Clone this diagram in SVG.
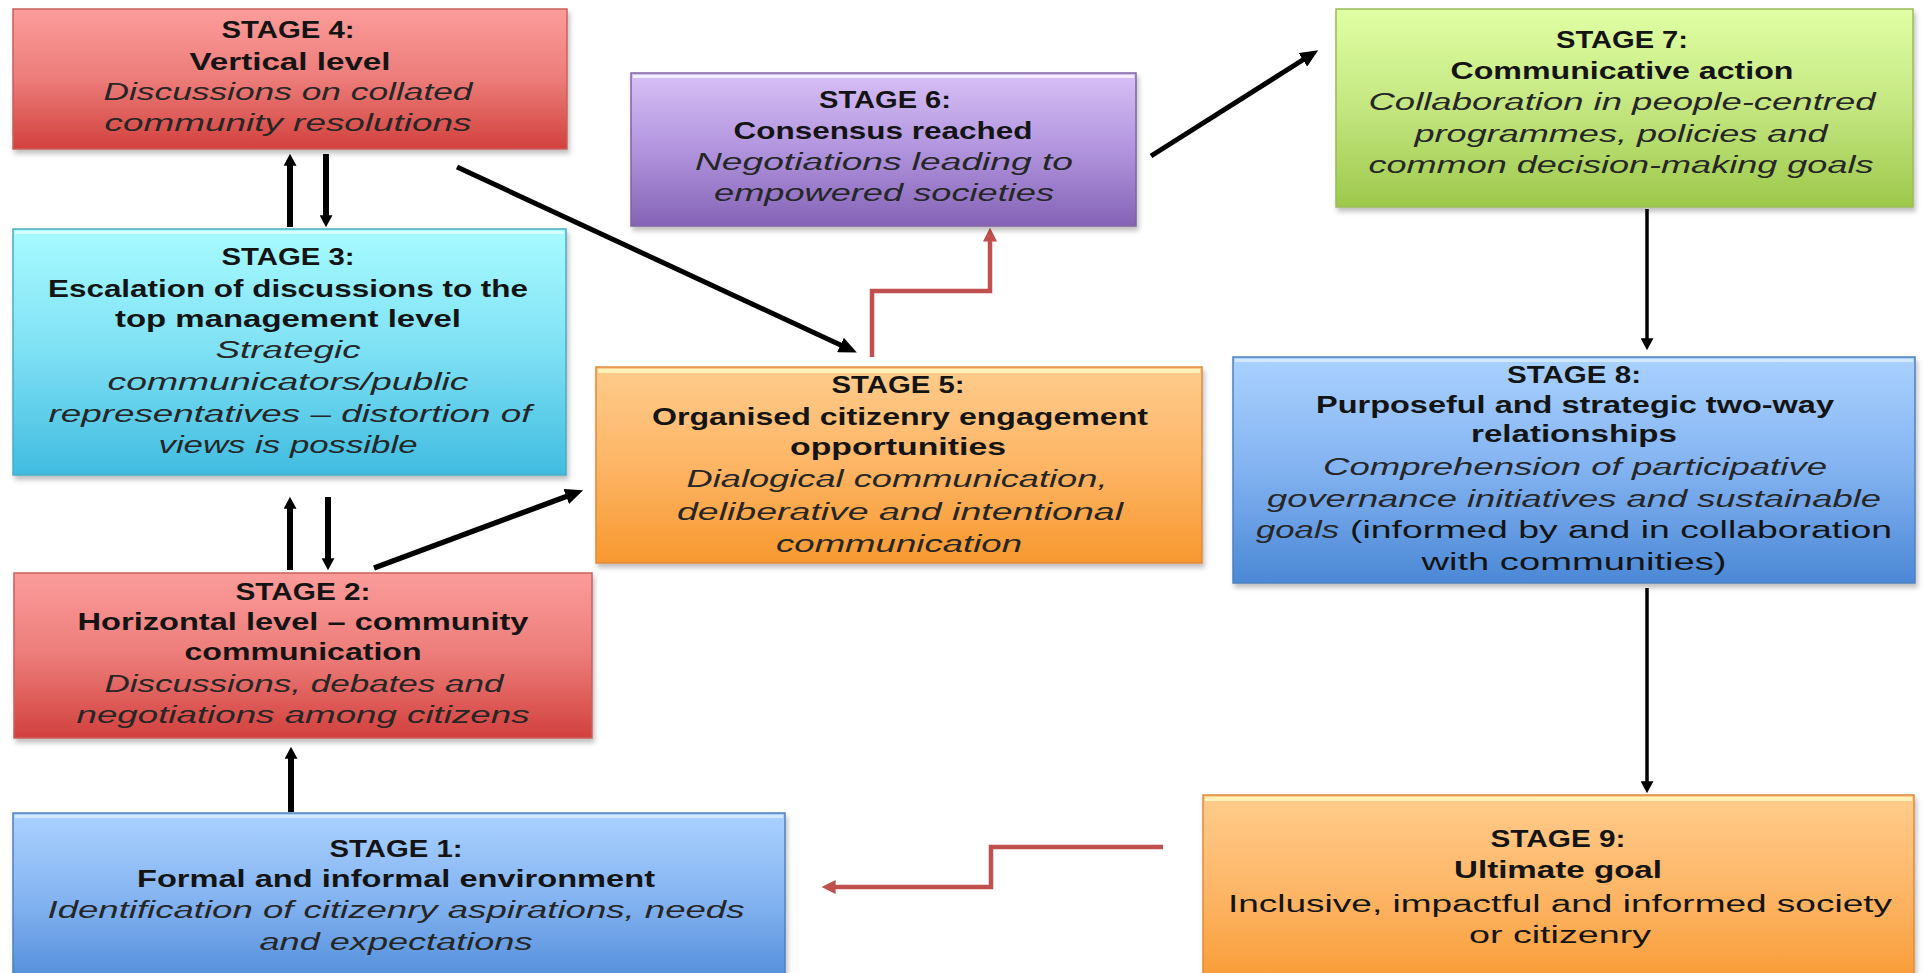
<svg xmlns="http://www.w3.org/2000/svg" width="1923" height="973" viewBox="0 0 1923 973">
<style>
text{font-family:"Liberation Sans",Arial,sans-serif;font-size:23px;fill:#141414;text-anchor:middle}
.b{font-weight:bold}
.i{font-style:italic;fill:#262626}
.n{font-weight:normal}
.s{text-anchor:start}
.box{stroke-width:1.5;filter:url(#sh)}
.k{stroke:#000;fill:none}
.r{stroke:#C0504D;stroke-width:4.5;fill:none}
</style>
<defs>
<filter id="sh" x="-5%" y="-10%" width="112%" height="130%"><feDropShadow dx="2" dy="4" stdDeviation="2.5" flood-color="#000" flood-opacity="0.25"/></filter>
<linearGradient id="gRed" x1="0" y1="0" x2="0" y2="1"><stop offset="0" stop-color="#FB9C9A"/><stop offset="0.5" stop-color="#EC7C79"/><stop offset="1" stop-color="#D2413E"/></linearGradient>
<linearGradient id="gCyan" x1="0" y1="0" x2="0" y2="1"><stop offset="0" stop-color="#A8FBFF"/><stop offset="0.5" stop-color="#7EE0F4"/><stop offset="1" stop-color="#40BCE0"/></linearGradient>
<linearGradient id="gPur" x1="0" y1="0" x2="0" y2="1"><stop offset="0" stop-color="#D8C0F6"/><stop offset="0.5" stop-color="#B194DE"/><stop offset="1" stop-color="#8463B6"/></linearGradient>
<linearGradient id="gOr" x1="0" y1="0" x2="0" y2="1"><stop offset="0" stop-color="#FFCC8C"/><stop offset="0.5" stop-color="#FDB565"/><stop offset="1" stop-color="#F8982F"/></linearGradient>
<linearGradient id="gGr" x1="0" y1="0" x2="0" y2="1"><stop offset="0" stop-color="#E0FFA4"/><stop offset="0.5" stop-color="#C4E680"/><stop offset="1" stop-color="#9DC84B"/></linearGradient>
<linearGradient id="gBl" x1="0" y1="0" x2="0" y2="1"><stop offset="0" stop-color="#AAD2FF"/><stop offset="0.5" stop-color="#82B2F0"/><stop offset="1" stop-color="#4B88D6"/></linearGradient>
<marker id="aS" viewBox="0 0 10 10" refX="4" refY="5" markerWidth="12" markerHeight="13" markerUnits="userSpaceOnUse" orient="auto" preserveAspectRatio="none"><path d="M0,0 L10,5 L0,10 z" fill="#000"/></marker>
<marker id="aL" viewBox="0 0 10 10" refX="4" refY="5" markerWidth="18" markerHeight="16" markerUnits="userSpaceOnUse" orient="auto" preserveAspectRatio="none"><path d="M0,0 L10,5 L0,10 z" fill="#000"/></marker>
<marker id="aR" viewBox="0 0 10 10" refX="4" refY="5" markerWidth="14" markerHeight="14" markerUnits="userSpaceOnUse" orient="auto"><path d="M0,0 L10,5 L0,10 z" fill="#C0504D"/></marker>
</defs>

<g id="connectors">
<line class="k" stroke-width="6" x1="290" y1="227" x2="290" y2="161" marker-end="url(#aS)"/>
<line class="k" stroke-width="6" x1="326" y1="154" x2="326" y2="220" marker-end="url(#aS)"/>
<line class="k" stroke-width="6" x1="290" y1="570" x2="290" y2="504" marker-end="url(#aS)"/>
<line class="k" stroke-width="6" x1="328" y1="497" x2="328" y2="563" marker-end="url(#aS)"/>
<line class="k" stroke-width="6" x1="291" y1="812" x2="291" y2="754" marker-end="url(#aS)"/>
<line class="k" stroke-width="3.5" x1="1647" y1="209" x2="1647" y2="343" marker-end="url(#aS)"/>
<line class="k" stroke-width="3.5" x1="1647" y1="588" x2="1647" y2="786" marker-end="url(#aS)"/>
<line class="k" stroke-width="5" x1="457" y1="167" x2="847" y2="348" marker-end="url(#aL)"/>
<line class="k" stroke-width="5.5" x1="374" y1="568" x2="573" y2="494" marker-end="url(#aL)"/>
<line class="k" stroke-width="5" x1="1151" y1="156" x2="1309" y2="56" marker-end="url(#aL)"/>
<path class="r" d="M872,357 V291 H990 V236" marker-end="url(#aR)"/>
<path class="r" d="M1163,847 H991 V887 H830" marker-end="url(#aR)"/>
</g>

<g id="stage4">
<rect class="box" x="13" y="9" width="554" height="140" fill="url(#gRed)" stroke="#C9605D"/>
<text class="b" x="288" y="38" textLength="133" lengthAdjust="spacingAndGlyphs">STAGE 4:</text>
<text class="b" x="290" y="70" textLength="201" lengthAdjust="spacingAndGlyphs">Vertical level</text>
<text class="i" x="288" y="100" textLength="369" lengthAdjust="spacingAndGlyphs">Discussions on collated</text>
<text class="i" x="288" y="131" textLength="367" lengthAdjust="spacingAndGlyphs">community resolutions</text>
</g>

<g id="stage3">
<rect class="box" x="13" y="229" width="553" height="246" fill="url(#gCyan)" stroke="#4BACC6"/>
<rect x="15" y="231" width="549" height="3" fill="#D8FFFF"/>
<text class="b" x="288" y="265" textLength="133" lengthAdjust="spacingAndGlyphs">STAGE 3:</text>
<text class="b" x="288" y="297" textLength="480" lengthAdjust="spacingAndGlyphs">Escalation of discussions to the</text>
<text class="b" x="288" y="327" textLength="346" lengthAdjust="spacingAndGlyphs">top management level</text>
<text class="i" x="288" y="358" textLength="145" lengthAdjust="spacingAndGlyphs">Strategic</text>
<text class="i" x="288" y="390" textLength="361" lengthAdjust="spacingAndGlyphs">communicators/public</text>
<text class="i" x="290" y="422" textLength="483" lengthAdjust="spacingAndGlyphs">representatives – distortion of</text>
<text class="i" x="288" y="453" textLength="259" lengthAdjust="spacingAndGlyphs">views is possible</text>
</g>

<g id="stage2">
<rect class="box" x="14" y="573" width="578" height="165" fill="url(#gRed)" stroke="#C9605D"/>
<text class="b" x="303" y="600" textLength="135" lengthAdjust="spacingAndGlyphs">STAGE 2:</text>
<text class="b" x="303" y="630" textLength="451" lengthAdjust="spacingAndGlyphs">Horizontal level – community</text>
<text class="b" x="303" y="660" textLength="237" lengthAdjust="spacingAndGlyphs">communication</text>
<text class="i" x="304" y="692" textLength="399" lengthAdjust="spacingAndGlyphs">Discussions, debates and</text>
<text class="i" x="303" y="723" textLength="453" lengthAdjust="spacingAndGlyphs">negotiations among citizens</text>
</g>

<g id="stage1">
<rect class="box" x="13" y="813" width="772" height="180" fill="url(#gBl)" stroke="#4F81BD"/>
<rect x="15" y="815" width="768" height="3" fill="#D2E8FF"/>
<text class="b" x="396" y="857" textLength="133" lengthAdjust="spacingAndGlyphs">STAGE 1:</text>
<text class="b" x="396" y="887" textLength="518" lengthAdjust="spacingAndGlyphs">Formal and informal environment</text>
<text class="i" x="396" y="918" textLength="697" lengthAdjust="spacingAndGlyphs">Identification of citizenry aspirations, needs</text>
<text class="i" x="396" y="950" textLength="273" lengthAdjust="spacingAndGlyphs">and expectations</text>
</g>

<g id="stage6">
<rect class="box" x="631" y="73" width="505" height="153" fill="url(#gPur)" stroke="#8064A2"/>
<rect x="633" y="75" width="501" height="3" fill="#F2EAFF"/>
<text class="b" x="885" y="108" textLength="132" lengthAdjust="spacingAndGlyphs">STAGE 6:</text>
<text class="b" x="883" y="139" textLength="299" lengthAdjust="spacingAndGlyphs">Consensus reached</text>
<text class="i" x="884" y="170" textLength="378" lengthAdjust="spacingAndGlyphs">Negotiations leading to</text>
<text class="i" x="884" y="201" textLength="340" lengthAdjust="spacingAndGlyphs">empowered societies</text>
</g>

<g id="stage5">
<rect class="box" x="596" y="367" width="606" height="196" fill="url(#gOr)" stroke="#E08A3C"/>
<rect x="598" y="369" width="602" height="4" fill="#FFF2B8"/>
<text class="b" x="898" y="393" textLength="133" lengthAdjust="spacingAndGlyphs">STAGE 5:</text>
<text class="b" x="900" y="425" textLength="496" lengthAdjust="spacingAndGlyphs">Organised citizenry engagement</text>
<text class="b" x="898" y="455" textLength="216" lengthAdjust="spacingAndGlyphs">opportunities</text>
<text class="i" x="897" y="487" textLength="421" lengthAdjust="spacingAndGlyphs">Dialogical communication,</text>
<text class="i" x="900" y="520" textLength="446" lengthAdjust="spacingAndGlyphs">deliberative and intentional</text>
<text class="i" x="899" y="552" textLength="246" lengthAdjust="spacingAndGlyphs">communication</text>
</g>

<g id="stage7">
<rect class="box" x="1336" y="9" width="577" height="198" fill="url(#gGr)" stroke="#9BBB59"/>
<text class="b" x="1622" y="48" textLength="132" lengthAdjust="spacingAndGlyphs">STAGE 7:</text>
<text class="b" x="1622" y="79" textLength="343" lengthAdjust="spacingAndGlyphs">Communicative action</text>
<text class="i" x="1622" y="110" textLength="507" lengthAdjust="spacingAndGlyphs">Collaboration in people-centred</text>
<text class="i" x="1621" y="142" textLength="413" lengthAdjust="spacingAndGlyphs">programmes, policies and</text>
<text class="i" x="1621" y="173" textLength="505" lengthAdjust="spacingAndGlyphs">common decision-making goals</text>
</g>

<g id="stage8">
<rect class="box" x="1233" y="357" width="682" height="226" fill="url(#gBl)" stroke="#4F81BD"/>
<rect x="1235" y="359" width="678" height="3" fill="#D2E8FF"/>
<text class="b" x="1574" y="383" textLength="134" lengthAdjust="spacingAndGlyphs">STAGE 8:</text>
<text class="b" x="1575" y="413" textLength="518" lengthAdjust="spacingAndGlyphs">Purposeful and strategic two-way</text>
<text class="b" x="1574" y="442" textLength="206" lengthAdjust="spacingAndGlyphs">relationships</text>
<text class="i" x="1575" y="475" textLength="504" lengthAdjust="spacingAndGlyphs">Comprehension of participative</text>
<text class="i" x="1574" y="507" textLength="614" lengthAdjust="spacingAndGlyphs">governance initiatives and sustainable</text>
<text class="i s" x="1256" y="538" textLength="83" lengthAdjust="spacingAndGlyphs">goals</text>
<text class="n s" x="1350" y="538" textLength="542" lengthAdjust="spacingAndGlyphs">(informed by and in collaboration</text>
<text class="n" x="1574" y="570" textLength="305" lengthAdjust="spacingAndGlyphs">with communities)</text>
</g>

<g id="stage9">
<rect class="box" x="1203" y="795" width="711" height="200" fill="url(#gOr)" stroke="#E08A3C"/>
<rect x="1205" y="797" width="707" height="4" fill="#FFF2B8"/>
<text class="b" x="1558" y="847" textLength="135" lengthAdjust="spacingAndGlyphs">STAGE 9:</text>
<text class="b" x="1558" y="878" textLength="208" lengthAdjust="spacingAndGlyphs">Ultimate goal</text>
<text class="n" x="1560" y="912" textLength="664" lengthAdjust="spacingAndGlyphs">Inclusive, impactful and informed society</text>
<text class="n" x="1560" y="943" textLength="182" lengthAdjust="spacingAndGlyphs">or citizenry</text>
</g>
</svg>
